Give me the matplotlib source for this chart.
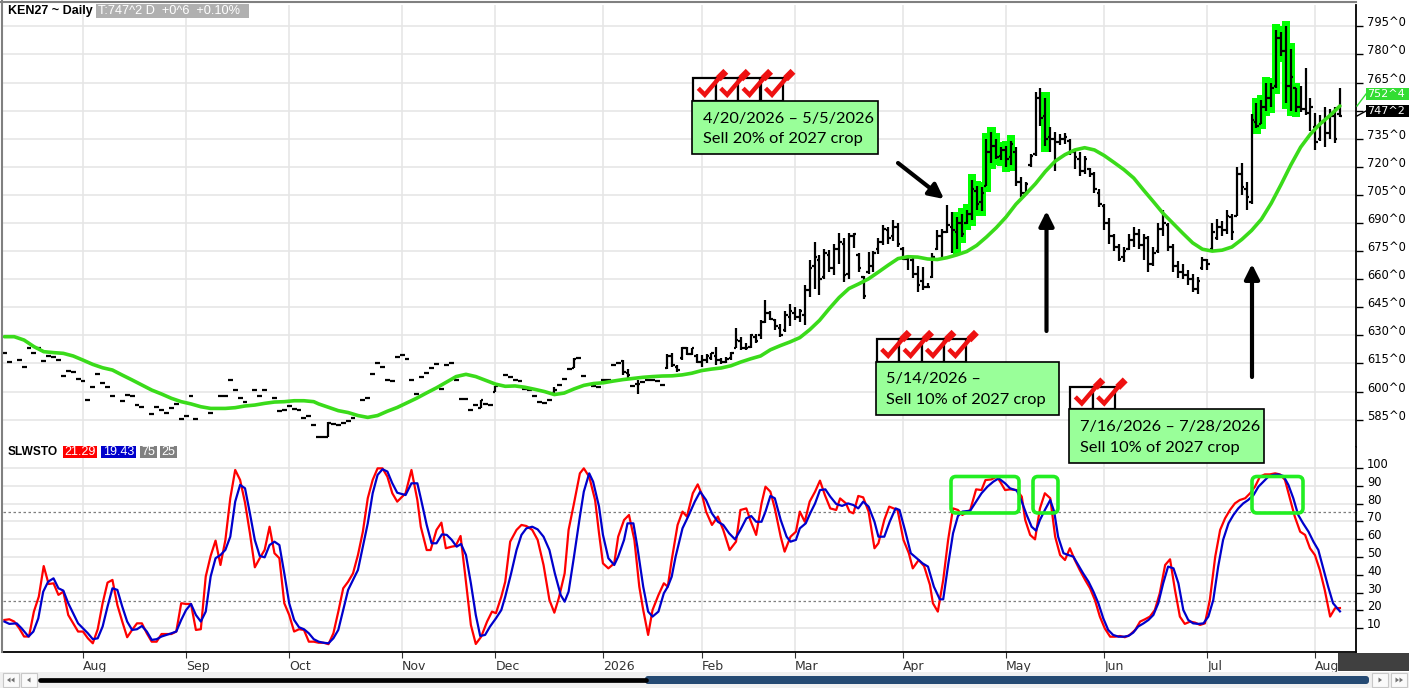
#!/usr/bin/env python3
"""KEN27 daily bar chart with moving average and slow stochastic, marketing notes."""

import matplotlib
matplotlib.use("Agg")
import matplotlib.pyplot as plt
import numpy as np
import pandas as pd
from matplotlib.collections import LineCollection
from matplotlib.patches import Rectangle, FancyBboxPatch, Polygon

# ---- data -------------------------------------------------------------
holidays = ["2025-09-01", "2025-11-27", "2025-12-25", "2026-01-01", "2026-01-19",
            "2026-02-16", "2026-04-03", "2026-05-25", "2026-06-19", "2026-07-03"]
days = pd.bdate_range("2025-07-10", "2026-08-10", freq="C", holidays=holidays)

bar_close = [
    620.5, 616, None, 617, 613, 623.5, 620.5, 623.5, 616.5, 619,
    618.5, 617, 608.5, 611, 610.5, 606.5, 605.5, 595.5, 602.5, 609.5,
    604.5, 602.5, 597.5, None, 595, 598, 597.5, 593, 592, None,
    588, 591.5, 590, 588.5, 591, 593.5, 585.5, 587, 597.5, 585.5,
    None, None, 588.5, None, 597.5, 597.5, 606, 601, 596.5, 594.5,
    None, 601, 597.5, 601, None, 596.5, 589.5, 590, 592.5, 590.5,
    590, 586, 587, 582, 575.5, 575.5, 583, 582.5, 582, 583,
    584.5, 586, None, 595.5, 596.5, 609.5, 615.5, 613, 606, 605.5,
    618.5, 619.5, 617.5, 606, 598.5, 608, 610, 612.5, 614.5, 601.5,
    614, 615, 606, 596, 596, 590, 593, 595.5, 593.5, 593,
    603, None, 609, 608, 606, 605.5, 601.5, 601, 597.5, 594.5,
    594, 595.5, 601, 603.5, 606.5, 612, 617.5, 618, 608.5, None,
    603, 602.5, 606, 606, 614, 615, 610.5, 609, 603, 604,
    605, 606, 606, 605.5, 603.5, 619, 614, 611.5, 623.5, 620,
    623, 616, 617, 619, 620.5, 617, 616, 617.5, 620.5, 627.5,
    623, 623.5, 630, 627, 637, 642, 639, 635, 630, 641,
    643, 640, 643, 654, 666, 672, 660, 674, 666, 676,
    680, 662, 683, 684, 666, 651, 667, 674, 680, 687,
    682, 688, 679, 671, 672, 663, 657, 656, 656, 672,
    683, 685, 689, 686, 690, 684, 695, 708, 700, 706,
    728, 731, 725, 729, 724, 732, 712, 706, 711, 726,
    757, 746, 735, 735, 733, 735, 736, 728, 725, 718,
    724, 716, 708, 700, 690, 683, 677, 671, 675, 681,
    684, 678, 682, 668, 674, 687, 690, 677, 667, 664,
    662, 660, 655, 659, 670, 668, 685, 688, 686, 694,
    685, 716, 709, 704, 745, 742, 752, 757, 762, 789,
    782, 763, 768, 752, 751, 749, 752, 733, 744, 738,
    747, 735, 747.25,
]
bar_open = [
    620.5, 616, None, 617, 613, 623.5, 620.5, 623.5, 616.5, 619,
    618.5, 617, 608.5, 611, 610.5, 606.5, 605.5, 595.5, 602.5, 609.5,
    604.5, 602.5, 597.5, None, 595, 598, 597.5, 593, 592, None,
    588, 591.5, 590, 588.5, 591, 593.5, 585.5, 587, 597.5, 585.5,
    None, None, 588.5, None, 597.5, 597.5, 606, 601, 596.5, 594.5,
    None, 601, 597.5, 601, None, 596.5, 589.5, 590, 592.5, 590.5,
    590, 586, 587, 582, 575.5, 575.5, 575.5, 582.5, 582, 583,
    584.5, 586, None, 595.5, 596.5, 609.5, 615.5, 613, 606, 605.5,
    618.5, 619.5, 617.5, 606, 598.5, 608, 610, 612.5, 614.5, 601.5,
    614, 615, 606, 596, 596, 590, 593, 591, 593.5, 593,
    600, None, 609, 608, 606, 605.5, 601.5, 601, 597.5, 594.5,
    594, 595.5, 599, 603.5, 606.5, 612, 612.5, 618, 608.5, None,
    603, 602.5, 606, 606, 614, 615, 616.5, 610, 603, 604,
    605, 606, 606, 605.5, 603.5, 612.5, 619, 613, 618, 623.5,
    620, 619, 616, 617, 618, 619, 617, 616, 618, 623,
    627, 623, 624, 629, 630, 637, 642, 638, 634, 633,
    640, 642, 640, 641, 654, 667, 670, 661, 673, 666,
    676, 679, 663, 683, 673, 661, 664, 667, 676, 680,
    686, 683, 688, 676, 671, 670, 663, 659, 656, 661,
    676, 683, 685, 688, 685, 690, 690, 695, 707, 701,
    709.5, 728, 731, 726, 729, 725, 728, 712, 706, 721,
    727, 757, 747, 736, 735, 733, 735, 734, 728, 724,
    718, 719, 716, 706, 699, 690, 683, 677, 672, 676,
    681, 684, 678, 682, 668, 675, 687, 689, 677, 667,
    664, 662, 660, 655, 666, 670, 676, 682, 688, 686,
    693, 694, 716, 708, 701, 744, 743, 752, 757, 763,
    789, 782, 763, 762, 752, 751, 749, 741, 735, 744,
    738, 747, 748,
]
bar_high = [
    620.5, 616, None, 617, 613, 623.5, 620.5, 623.5, 616.5, 619,
    618.5, 617, 608.5, 611, 610.5, 606.5, 605.5, 595.5, 602.5, 609.5,
    604.5, 602.5, 597.5, None, 595, 598, 597.5, 593, 592, None,
    588, 591.5, 590, 588.5, 591, 593.5, 585.5, 587, 597.5, 585.5,
    None, None, 588.5, None, 597.5, 597.5, 606, 601, 596.5, 594.5,
    None, 601, 597.5, 601, None, 596.5, 589.5, 590, 592.5, 590.5,
    590, 586, 587, 582, 575.5, 575.5, 584, 582.5, 582, 583,
    584.5, 586, None, 595.5, 596.5, 609.5, 615.5, 613, 606, 605.5,
    618.5, 619.5, 617.5, 606, 598.5, 608, 610, 612.5, 614.5, 601.5,
    614, 615, 606, 596, 596, 590, 593, 595.5, 593.5, 593,
    603, None, 609, 608, 606, 605.5, 601.5, 601, 597.5, 594.5,
    594, 595.5, 602.5, 603.5, 606.5, 612, 618, 618, 608.5, None,
    603, 602.5, 606, 606, 614, 615, 617, 612, 603, 606,
    605, 606, 606, 605.5, 603.5, 620, 620.5, 614, 624, 624,
    623.5, 620, 619.5, 620, 620.5, 624, 618, 618.5, 621, 634,
    629, 626, 630.5, 631, 638, 649, 643, 639, 636, 643,
    647, 645, 644, 657, 670, 680, 673, 676, 675.5, 679,
    684.5, 682, 684.5, 684.5, 674, 661.5, 674.5, 675, 682, 689,
    688, 691.5, 690, 677, 673, 672, 667, 666.5, 658, 674,
    686, 687, 699.5, 696, 693, 695, 697, 713, 709.5, 709,
    735, 738.5, 735, 730.5, 731, 734, 730.5, 714.5, 712, 727,
    760, 762, 757, 741, 738.5, 737.5, 738, 735, 729, 728,
    726, 719.5, 717, 708, 700, 692.5, 684, 679, 677, 684,
    688, 687, 684, 683, 677, 690, 697, 690, 679, 669.5,
    668, 665, 663, 661, 672, 671, 690, 692, 691, 697,
    695, 720, 722, 712, 748, 754, 755.5, 765, 764.5, 793,
    792, 795, 783, 762, 763, 773, 757, 748.5, 747.5, 752,
    751, 752, 762,
]
bar_low = [
    620.5, 616, None, 617, 613, 623.5, 620.5, 623.5, 616.5, 619,
    618.5, 617, 608.5, 611, 610.5, 606.5, 605.5, 595.5, 602.5, 609.5,
    604.5, 602.5, 597.5, None, 595, 598, 597.5, 593, 592, None,
    588, 591.5, 590, 588.5, 591, 593.5, 585.5, 587, 597.5, 585.5,
    None, None, 588.5, None, 597.5, 597.5, 606, 601, 596.5, 594.5,
    None, 601, 597.5, 601, None, 596.5, 589.5, 590, 592.5, 590.5,
    590, 586, 587, 582, 575.5, 575.5, 575.5, 582.5, 582, 583,
    584.5, 586, None, 595.5, 596.5, 609.5, 615.5, 613, 606, 605.5,
    618.5, 619.5, 617.5, 606, 598.5, 608, 610, 612.5, 614.5, 601.5,
    614, 615, 606, 596, 596, 590, 593, 591, 593.5, 593,
    600, None, 609, 608, 606, 605.5, 601.5, 601, 597.5, 594.5,
    594, 595.5, 599, 603.5, 606.5, 612, 612.5, 618, 608.5, None,
    603, 602.5, 606, 606, 614, 615, 609, 607, 603, 598.5,
    605, 606, 606, 605.5, 603.5, 612, 613, 610.5, 617, 619.5,
    619.5, 615.5, 613, 615.5, 617, 614, 614.5, 615, 617, 623,
    622, 622, 623, 626, 628, 636.5, 638, 633, 629, 632,
    635, 638, 637, 635.5, 650.5, 655, 651.5, 660, 664, 662,
    668, 658.5, 660, 676.5, 664, 649.5, 663, 664, 673.5, 678,
    679, 680.5, 677, 670, 665, 660.5, 653, 654, 655.5, 660.5,
    675.5, 672, 684.5, 674, 676, 682.5, 689.5, 691.5, 697, 696.5,
    709.5, 722, 724, 723.5, 720, 721, 709.5, 704, 705, 720,
    726, 742, 731, 728, 717.5, 731.5, 732, 726.5, 719, 715,
    716, 714.5, 706, 698.5, 686, 679, 675, 669.5, 669, 675.5,
    677, 676, 670, 664, 667, 674, 683, 675, 664, 660.5,
    660, 657, 653, 652, 665, 665, 675, 681, 683, 684,
    681, 693.5, 705, 697, 700, 740.5, 743, 750, 752, 762,
    779, 754, 750, 749.5, 749.5, 747.5, 739, 729, 734, 730.5,
    735, 732.5, 746.5,
]

# bars painted green by the study
green_bars = [194, 195, 196, 197, 198, 199, 200, 201, 202, 203, 204, 205,
              212, 255, 256, 257, 258, 259, 260, 261, 262, 263]

# moving average (bar index, price)
ma_pos = list(range(0, 43, 2)) + [45, 47, 49, 51, 53, 55, 57, 59, 61, 63,
                                  64, 66, 68, 70, 72, 74] + list(range(76, 273, 2))
ma_val = [629.3, 629.3, 627.5, 624, 621.3, 620.8, 620.4, 619, 616.8, 614.5,
          612.7, 611.5, 608.8, 606.2, 603.5, 600.8, 598.7, 596.4, 594.6, 593.4,
          591.9, 591,
          591, 591.4, 592.3, 592.8, 593.7, 594.4, 594.6, 595.1, 595.1, 594.6,
          593.4, 591.6, 589.8, 588.8, 587.2, 586.2,
          587.2, 589.5, 591.5, 594, 596.5, 599.3, 602, 605, 608, 609.2,
          608, 606, 604, 602.8, 603, 602.3, 601.2, 600, 598.4, 599.2,
          601.4, 603.3, 604.3, 604.7, 605.6, 606.4, 607, 607.6, 608, 608.3,
          608.4, 608.9, 609.8, 611.2, 612, 612.6, 613.8, 615.8, 617.5, 619,
          622.3, 624.5, 626.5, 628.8, 633, 638, 644.3, 650.2, 655, 657.5,
          660.2, 663.8, 667.5, 671, 672, 671.8, 670.8, 670.5, 671.5, 673,
          674.8, 678, 682.5, 687.5, 693.2, 700, 705.4, 711, 717.5, 723,
          726.5, 729, 730.2, 729, 726, 722.3, 718.5, 714, 707.6, 701.4,
          695.1, 689.8, 684.5, 679.4, 676, 675, 675.5, 677.2, 681.2, 686,
          692, 700.5, 710.5, 721, 730.5, 737.5, 743, 747.5, 752.5]

# slow stochastic %K (red) and %D (blue)
k_pos = list(range(0, 81)) + [
    81.7, 82.9, 84.1, 84.8, 86.0, 86.8, 88.0, 89.0, 89.9, 91.1,
    91.9, 92.9, 93.8, 95.0, 96.0, 97.1, 98.3, 99.3, 100.1, 101.2,
    102.0, 103.0, 104.3, 105.3, 106.3, 107.5, 108.6, 109.8, 111.0, 112.0,
    112.9, 114.1, 114.9, 116.0, 117.2, 118.0, 119.1, 120.3, 121.1, 121.9,
    123.0, 124.2, 125.0, 126.2, 127.2, 128.3, 129.3, 130.1, 131.1, 132.0,
    133.2, 134.3, 135.1, 135.9, 137.1, 138.1, 139.0, 140.2, 141.2, 142.1,
    142.9, 144.1, 145.3, 146.4, 147.7, 149.0, 149.9, 151.1, 151.9, 153.1,
    154.2, 155.0, 156.0, 156.9, 158.1, 158.9, 160.1, 161.2, 162.0, 163.0,
    164.0, 165.1, 166.1, 167.1, 168.2, 169.4, 170.2, 171.4, 172.1, 172.9,
    173.9, 174.9, 176.0, 177.2, 178.0, 179.2, 180.2, 181.1, 181.9, 183.1,
    184.2, 185.0, 186.2, 187.3, 188.5, 189.1, 190.1, 191.2, 192.2, 193.2,
    194.2, 195.1, 196.7, 197.9, 199.0, 199.8, 201.0, 202.1,
    202.8, 203.8, 204.8, 206.2, 207.2, 207.9, 208.9, 209.9, 210.9, 211.9,
    213.0, 214.0, 215.0, 216.0, 217.0, 218.0, 219.0, 220.1, 221.1, 222.1,
    223.1, 224.1, 225.2, 226.2, 227.2, 228.2, 229.2, 230.3, 231.3, 232.3,
    233.3, 234.3, 235.3, 236.4, 237.4, 238.4, 239.4, 240.4, 241.5, 242.5,
    243.5, 244.5, 245.5, 246.6, 247.6, 248.6, 249.6, 250.6, 251.6, 252.7,
    253.7, 254.7, 255.7, 256.7, 257.7, 258.8, 259.8, 260.8, 261.8, 262.8,
    263.9, 264.9, 265.9, 266.9, 267.9, 268.9, 270.0, 271.0, 272.0]
k_val = [
    14.6, 15, 13.7, 10, 5.3, 5.3, 19.3, 27.7, 44.9, 34.8,
    35.2, 28.7, 30.5, 17.4, 12.7, 8.1, 8.1, 4.3, 1.5, 9.4,
    24, 35.6, 37.1, 23, 13.7, 4.9, 9, 12.7, 12.7, 7.1,
    2.4, 2.4, 6.7, 6.7, 6.7, 8.1, 24, 23.6, 23.6, 9,
    9.4, 39, 50.6, 59.2, 45.5, 59.5, 83, 98.9, 93.3, 80.5,
    63.3, 44.2, 49.3, 54, 67, 52.1, 49.3, 24, 17.4, 8.1,
    9.4, 9, 2.4, 2.4, 1.8, 1.8, 1, 7.1, 19.3, 32.4,
    36.1, 40.8, 51.1, 64.2, 83, 93.3, 99.8, 99.8, 95.1, 85.8,
    81.1,
    85.8, 98.9, 82, 67, 53.9, 53.9, 65.2, 69.3, 54.9, 55.8,
    56.2, 61.8, 40.8, 11.8, 1.1, 5.2, 13.7, 19.3, 18.4, 27.7,
    36.1, 58.6, 65.2, 68, 67.4, 65.2, 59.6, 45.5, 25.8, 18.7,
    26.8, 40.8, 65.2, 80.1, 97, 99.8, 95.1, 82, 63.3, 46.4,
    43.6, 46.4, 61.4, 70.8, 73.6, 59.6, 33.3, 20.2, 6.2, 20.2,
    28.6, 35.2, 33.3, 48.3, 68, 75.5, 72.7, 85.8, 90.8, 84.8,
    75.5, 68, 72.7, 65.2, 53.9, 58.6, 76.4, 77.3, 70.8, 62.4,
    80.1, 89.5, 86.7, 77.3, 61.4, 53, 61.4, 64.2, 75.5, 69.8,
    81.1, 86.7, 92.9, 84.8, 77.3, 76.4, 82.9, 80.1, 75.5, 74.5,
    84.3, 83.5, 75.5, 54.9, 57.7, 70.8, 78.3, 77.3, 76.4, 59.6,
    52.1, 43.6, 48.3, 44.9, 34.3, 24, 19.3, 37.1, 59.6, 77.3,
    76.4, 73.6, 76.4, 88, 87.6, 93.2, 93.6, 95.1,
    92.3, 87.6, 88, 87.6, 83.9, 70.8, 62.4, 59.9, 77.3, 85.8,
    83, 61.4, 51.1, 48.3, 54.9, 48.3, 42.7, 37.1, 32.4, 25.8,
    16.5, 9.9, 5.2, 5.2, 5.6, 4.9, 6.2, 9, 13.7, 15,
    16.5, 20.2, 29.6, 45.5, 48.7, 31.5, 16.5, 12.4, 13.7, 13.1,
    11.8, 12.7, 25.8, 50.2, 65.2, 71.7, 76.4, 80.1, 82, 83,
    85.8, 89.5, 95.1, 96.4, 96.4, 97, 96.4, 93.3, 83, 72.7,
    64.2, 62.4, 54.9, 51.1, 42.7, 31.5, 16.5, 21.2, 21.29]

d_pos = [0, 1, 2.5, 3.5, 4.9, 5.9, 6.9, 7.9, 8.9] + list(range(10, 81)) + [
    81.7, 82.9, 84.1, 84.8, 86.0, 87.0, 88.0, 89.1, 90.1, 91.1,
    92.1, 93.0, 94.0, 95.0, 96.0, 96.9, 97.9, 98.9, 100.1, 101.2,
    102.0, 103.2, 104.3, 105.3, 106.3, 107.5, 108.6, 109.8, 111.0, 112.1,
    113.3, 114.1, 114.9, 116.0, 117.2, 118.0, 119.1, 119.9, 121.1, 121.9,
    123.0, 124.2, 125.0, 126.2, 126.9, 128.1, 128.9, 130.1, 131.1, 132.0,
    133.2, 134.3, 135.1, 135.9, 136.7, 138.1, 139.4, 140.6, 141.7, 142.9,
    144.1, 145.3, 146.4, 147.6, 148.8, 149.9, 151.1, 152.1, 153.1, 154.2,
    155.0, 156.0, 156.9, 158.1, 159.3, 160.1, 161.2, 162.0, 163.2, 164.1,
    165.1, 166.1, 167.2, 168.2, 169.4, 170.6, 171.8, 172.9, 173.9, 174.9,
    176.0, 177.2, 178.0, 179.2, 180.3, 181.5, 182.3, 183.4, 184.6, 185.8,
    187.0, 188.1, 189.3, 190.5, 191.2, 192.2, 193.2, 194.2, 195.1, 196.7,
    197.9, 199.0, 200.2, 201.4, 202.5,
    203.8, 204.8, 206.2, 207.2, 208.2, 209.2, 210.1, 210.9, 211.9, 213.0,
    213.8, 214.6, 215.7, 216.7, 217.7, 218.7, 219.7, 220.8, 221.8, 222.8,
    223.8, 224.8, 225.8, 226.9, 227.9, 228.9, 229.9, 230.9, 232.0, 233.0,
    234.0, 235.0, 236.0, 237.0, 238.1, 239.1, 240.1, 241.1, 242.1, 243.2,
    244.2, 245.2, 246.2, 247.2, 248.2, 249.3, 250.3, 251.3, 252.3, 253.3,
    254.4, 255.4, 256.4, 257.4, 258.4, 259.4, 260.5, 261.5, 262.5, 263.5,
    264.5, 265.6, 266.6, 267.6, 268.6, 269.6, 270.6, 272.0]
d_val = [
    13.7, 12.4, 12.7, 9.9, 5.3, 8.1, 15.5, 30.5, 36.1,
    38, 32.4, 31.1, 24, 18.4, 12.7, 9.9, 7.1, 3.8, 4.3,
    10.9, 22.1, 32.4, 31.5, 22.1, 13.7, 9, 9.4, 11.2, 8.1,
    3.4, 3.8, 5.3, 6.2, 7.1, 8.1, 14.6, 20.2, 23.6, 17.4,
    13.7, 19.3, 39, 49.3, 51.1, 54, 61.4, 81.1, 90.5, 88.6,
    74.5, 59.5, 50.6, 49.8, 56.7, 58.6, 56.7, 40.8, 24, 14.6,
    10.5, 9.4, 7.1, 3.8, 2.4, 1.8, 1.5, 4.3, 9, 20.2,
    31.5, 37.1, 42.7, 55.8, 68.9, 85.8, 96.1, 99.3, 98, 91.4,
    86.1,
    84.8, 91.4, 91.4, 83, 68, 57.7, 57.7, 62.7, 62.4, 59.6,
    55.8, 57.3, 51.1, 35.2, 17.4, 5.6, 6.2, 10.9, 15.5, 20.2,
    27.7, 40.8, 53.9, 62.4, 66.1, 67, 65.5, 61.4, 53.9, 40.8,
    28.6, 24.9, 30.5, 50.2, 72.7, 86.7, 97, 92.3, 78.3, 62.4,
    49.3, 45.5, 50.2, 59.6, 68.9, 68.9, 55.8, 33.3, 19.3, 16.5,
    19.3, 29.6, 33.3, 38.9, 50.2, 66.1, 73.6, 81.1, 86.7, 82,
    74.5, 69.8, 68, 63.3, 59.9, 65.2, 71.7, 73, 69.8, 69.8,
    75.5, 84.3, 83, 70.8, 61.4, 58.6, 59.6, 66.1, 68.9, 74.5,
    80.1, 87.6, 88, 83.9, 79.8, 78.7, 80.1, 79.2, 77.3, 81.1,
    78.3, 69.8, 61.4, 61.4, 69.8, 77.3, 76.4, 65.2, 52.1, 49.3,
    46.4, 44.6, 33.3, 26.2, 26.2, 45.5, 63.3, 73, 75.5, 76,
    81.1, 85.8, 89.5, 92.3, 94.2,
    91.4, 88.6, 87.3, 81.1, 73.6, 67, 64.8, 70.8, 76.4, 82,
    75.5, 61.4, 52.1, 51.1, 50.2, 45.5, 40.8, 36.1, 30.5, 24,
    15.5, 9, 6.2, 5.2, 5.2, 5.6, 7.5, 10.9, 12.7, 14.6,
    17.4, 24, 35.2, 44.6, 43.6, 35.2, 20.2, 14.6, 12.7, 12.4,
    12.7, 16.5, 25.8, 44.6, 59.6, 68.9, 73.6, 77.3, 80.1, 82,
    84.8, 89.5, 92.3, 95.1, 96.1, 96.4, 95.5, 90.5, 83, 73.6,
    68.9, 64.2, 58.6, 53.9, 43.6, 33.3, 24, 19.43]

price_ticks = list(range(585, 796, 15))
hidden_price_labels = [750]          # covered by the last-value tags
stoch_ticks = list(range(10, 101, 10))

notes = [
    ("4/20/2026 \u2013 5/5/2026", "Sell 20% of 2027 crop", 4),
    ("5/14/2026 \u2013", "Sell 10% of 2027 crop", 4),
    ("7/16/2026 \u2013 7/28/2026", "Sell 10% of 2027 crop", 2),
]

# ---- layout helpers -----------------------------------------------------
W, H = 1409, 688
GRID = "#E6E6E6"
UI = "Liberation Sans"


def frac(x0, y0, x1, y1):
    return [x0 / W, 1 - y1 / H, (x1 - x0) / W, (y1 - y0) / H]


plt.rcParams["font.family"] = ["DejaVu Sans"]
fig = plt.figure(figsize=(W / 100, H / 100), dpi=100, facecolor="white")
ax_p = fig.add_axes(frac(3, 5, 1356, 447))
ax_s = fig.add_axes(frac(3, 447, 1356, 652))
ax_o = fig.add_axes([0, 0, 1, 1], zorder=10)
ax_o.set_xlim(0, W)
ax_o.set_ylim(H, 0)
ax_o.axis("off")
ax_o.patch.set_alpha(0)

month_idx = [i for i in range(1, len(days)) if days[i].month != days[i - 1].month]
month_lbl = [str(days[i].year) if days[i].month == 1 else days[i].strftime("%b")
             for i in month_idx]

for ax in (ax_p, ax_s):
    ax.set_xlim(-0.29, 275.27)
    ax.set_xticks(month_idx)
    ax.grid(True, color=GRID, lw=1.2)
    ax.set_axisbelow(True)
    ax.yaxis.tick_right()
    ax.tick_params(axis="y", length=5, width=1, labelsize=8.3, pad=3, colors="black")
    for s in ("left", "top", "bottom"):
        ax.spines[s].set_visible(False)
    ax.spines["right"].set_linewidth(1.3)

# ---- price panel --------------------------------------------------------
ax_p.set_ylim(570.4, 806.4)
ax_p.set_yticks(price_ticks)
ax_p.set_yticklabels(["" if t in hidden_price_labels else f"{t}^0" for t in price_ticks])
ax_p.tick_params(axis="x", length=0, labelbottom=False)

for i in green_bars:
    lo, hi = bar_low[i], bar_high[i]
    ax_p.add_patch(Rectangle((i - 0.85, lo - 3), 1.7, hi - lo + 6,
                             fc="#00FF00", ec="none", zorder=2))

segs = []
for i, (o, h, l, c) in enumerate(zip(bar_open, bar_high, bar_low, bar_close)):
    if c is None:
        continue
    if h > l:
        segs.append([(i, l), (i, h)])
    segs.append([(i - 0.5, o), (i, o)])
    segs.append([(i, c), (i + 0.5, c)])
ax_p.add_collection(LineCollection(segs, colors="black", linewidths=1.6,
                                   capstyle="butt", zorder=3))
ax_p.plot(ma_pos, ma_val, color="#3ADB1A", lw=2.6, solid_capstyle="round", zorder=4)

# ---- stochastic panel ---------------------------------------------------
ax_s.set_ylim(-3.4, 111.8)
ax_s.set_yticks(stoch_ticks)
ax_s.set_xticklabels(month_lbl)
ax_s.tick_params(axis="x", length=4, pad=2, labelsize=9, colors="#333333")
for lab in ax_s.get_xticklabels():
    lab.set_ha("left")
ax_s.spines["bottom"].set_visible(True)
ax_s.spines["bottom"].set_linewidth(1.3)
for lvl in (75, 25):
    ax_s.axhline(lvl, color="#7F7F7F", lw=0.9, ls=(0, (2, 2)), zorder=1.5)
ax_s.plot(k_pos, k_val, color="#FF0000", lw=1.6, zorder=3)
ax_s.plot(d_pos, d_val, color="#0000CC", lw=1.6, zorder=4)

# scale labels sit on their tick, like the platform draws them
for ax in (ax_p, ax_s):
    for lab in ax.get_yticklabels():
        lab.set_va("baseline")

# ---- overlay: headers, notes, arrows, tags, scrollbar ----------------------
ax_o.plot([1.5, 1.5], [0, 652], color="#808080", lw=1.5)
ax_o.plot([0, 1356], [1.5, 1.5], color="#808080", lw=1.5)

ax_o.text(8, 11, "KEN27 ~ Daily", fontsize=9, fontweight="bold", family=UI, va="center")
ax_o.add_patch(Rectangle((96, 3.5), 153, 14, fc="#B0B0B0", ec="none"))
ax_o.text(98, 11, "T:747^2 D  +0^6  +0.10%", fontsize=9.2, color="white",
          family=UI, va="center")

ax_o.text(8, 452, "SLWSTO", fontsize=8.6, fontweight="bold", family=UI, va="center")
for x0, x1, col, txt in [(63, 97, "#FF0000", "21.29"), (101, 136, "#0000CC", "19.43"),
                         (140, 157, "#808080", "75"), (160, 177, "#808080", "25")]:
    ax_o.add_patch(Rectangle((x0, 445.5), x1 - x0, 12, fc=col, ec="none"))
    ax_o.text((x0 + x1) / 2, 451.8, txt, fontsize=9, color="white", family=UI,
              ha="center", va="center")


def check_row(x0, y0, n, size=22.4):
    for k in range(n):
        ax_o.add_patch(Rectangle((x0 + k * size, y0), size, size,
                                 fc="white", ec="black", lw=1.6))
    for k in range(n):
        bx = x0 + k * size
        ax_o.plot([bx + 5, bx + 11.5, bx + 29], [y0 + 10, y0 + 16.5, y0 - 4],
                  color="#EE1111", lw=3.2, solid_joinstyle="miter",
                  solid_capstyle="butt")
        ax_o.plot([bx + 25, bx + 32.5], [y0 + 0.5, y0 - 7], color="#EE1111",
                  lw=5, solid_capstyle="butt")


boxes = [(692.3, 100.7, 877.7, 154.3), (875.7, 361.7, 1059.3, 415.0),
         (1069.3, 409.3, 1264.3, 463.3)]
for (l1, l2, n), (x0, y0, x1, y1) in zip(notes, boxes):
    check_row(x0 + 1, y0 - 22.4, n)
    ax_o.add_patch(Rectangle((x0, y0), x1 - x0, y1 - y0, fc="#99FF99",
                             ec="black", lw=1.2))
    ax_o.text(x0 + 10.5, y0 + 17.8, l1, fontsize=11.8, family="Lato", va="center")
    ax_o.text(x0 + 10.5, y0 + 38.6, l2, fontsize=11.8, family="Lato", va="center")

arrow = dict(arrowstyle="-|>", color="black", lw=3, mutation_scale=22,
             shrinkA=0, shrinkB=0)
ax_o.annotate("", xy=(944, 199), xytext=(898, 163), arrowprops=arrow)
ax_o.annotate("", xy=(1046.5, 211), xytext=(1046.5, 331), arrowprops=arrow)
ax_o.annotate("", xy=(1252, 264), xytext=(1252, 377), arrowprops=arrow)

for (x0, x1) in [(951, 1019), (1033, 1058), (1252, 1303)]:
    ax_o.add_patch(FancyBboxPatch((x0, 476.5), x1 - x0, 36.5,
                                  boxstyle="round,pad=0,rounding_size=5",
                                  fc="none", ec="#22EE22", lw=2.6))

# last-value tags on the price scale
ax_o.plot([1357, 1366], [106, 94], color="#33DD33", lw=1)
ax_o.plot([1357, 1366], [116, 111], color="black", lw=1)
ax_o.add_patch(Rectangle((1366, 87.8), 43, 12.4, fc="#33DD33", ec="none"))
ax_o.text(1367.5, 94, "752^4", fontsize=8, color="white", va="center")
ax_o.add_patch(Rectangle((1366, 105), 43, 12.3, fc="black", ec="none"))
ax_o.text(1367.5, 111.2, "747^2", fontsize=8, color="white", va="center")

# bottom strip: corner block and scrollbar
ax_o.add_patch(Rectangle((1338, 653), 71, 18, fc="#404040", ec="none"))
ax_o.add_patch(Rectangle((0, 672), W, 16, fc="#F0F0F0", ec="none"))
for bx in (3, 21, 1372, 1391):
    ax_o.add_patch(Rectangle((bx, 673), 16, 14, fc="#FAFAFA", ec="#C8C8C8", lw=0.8))
for pts in ([(7, 680), (10.5, 677.5), (10.5, 682.5)], [(11, 680), (14.5, 677.5), (14.5, 682.5)],
            [(27, 680), (30.5, 677.5), (30.5, 682.5)],
            [(1382, 680), (1378.5, 677.5), (1378.5, 682.5)],
            [(1399, 680), (1395.5, 677.5), (1395.5, 682.5)],
            [(1403, 680), (1399.5, 677.5), (1399.5, 682.5)]):
    ax_o.add_patch(Polygon(pts, closed=True, fc="#707070", ec="none"))
ax_o.plot([40, 646], [680, 680], color="black", lw=3.4, solid_capstyle="round")
ax_o.add_patch(FancyBboxPatch((645, 676), 724, 8, boxstyle="round,pad=0,rounding_size=3",
                              fc="#254A73", ec="none"))

fig.savefig("out.png", dpi=100)
